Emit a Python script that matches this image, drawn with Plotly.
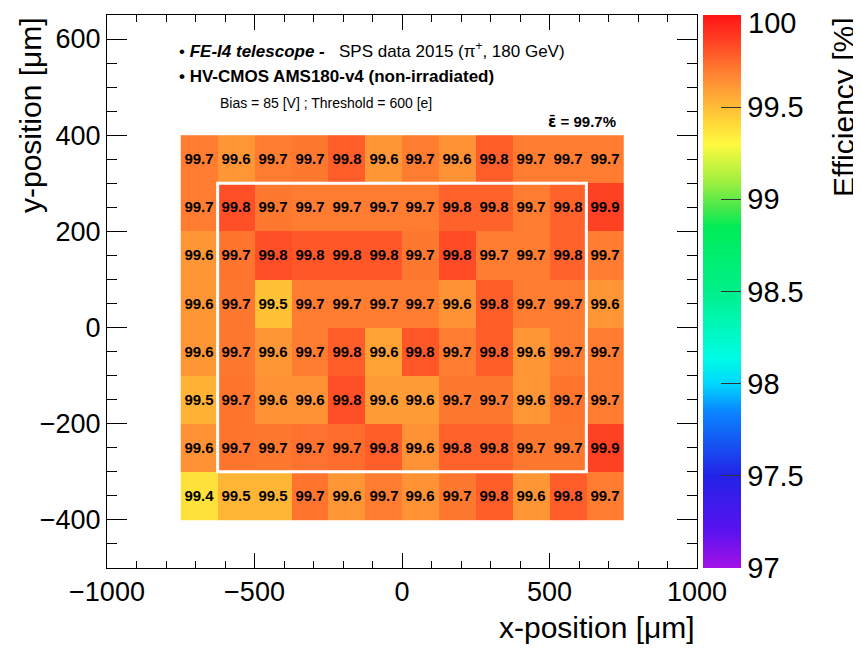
import plotly.graph_objects as go

# ---- data ----
x_bins = [-687.5, -562.5, -437.5, -312.5, -187.5, -62.5, 62.5, 187.5, 312.5, 437.5, 562.5, 687.5]
y_bins = [350, 250, 150, 50, -50, -150, -250, -350]

# efficiency values (top row first), estimated from labels and cell colours
eff = [
    [99.70, 99.62, 99.70, 99.71, 99.78, 99.62, 99.70, 99.63, 99.78, 99.70, 99.70, 99.70],
    [99.70, 99.82, 99.71, 99.70, 99.70, 99.70, 99.70, 99.77, 99.77, 99.70, 99.77, 99.86],
    [99.62, 99.72, 99.82, 99.80, 99.80, 99.80, 99.71, 99.83, 99.70, 99.70, 99.77, 99.70],
    [99.62, 99.71, 99.48, 99.70, 99.70, 99.70, 99.70, 99.63, 99.78, 99.70, 99.70, 99.62],
    [99.62, 99.71, 99.62, 99.70, 99.78, 99.58, 99.80, 99.70, 99.78, 99.62, 99.70, 99.70],
    [99.53, 99.72, 99.63, 99.63, 99.82, 99.60, 99.60, 99.71, 99.71, 99.62, 99.72, 99.70],
    [99.63, 99.72, 99.71, 99.73, 99.74, 99.78, 99.63, 99.77, 99.77, 99.71, 99.71, 99.86],
    [99.38, 99.52, 99.52, 99.72, 99.62, 99.70, 99.63, 99.71, 99.78, 99.62, 99.78, 99.70],
]
labels = [
    ["99.7", "99.6", "99.7", "99.7", "99.8", "99.6", "99.7", "99.6", "99.8", "99.7", "99.7", "99.7"],
    ["99.7", "99.8", "99.7", "99.7", "99.7", "99.7", "99.7", "99.8", "99.8", "99.7", "99.8", "99.9"],
    ["99.6", "99.7", "99.8", "99.8", "99.8", "99.8", "99.7", "99.8", "99.7", "99.7", "99.8", "99.7"],
    ["99.6", "99.7", "99.5", "99.7", "99.7", "99.7", "99.7", "99.6", "99.8", "99.7", "99.7", "99.6"],
    ["99.6", "99.7", "99.6", "99.7", "99.8", "99.6", "99.8", "99.7", "99.8", "99.6", "99.7", "99.7"],
    ["99.5", "99.7", "99.6", "99.6", "99.8", "99.6", "99.6", "99.7", "99.7", "99.6", "99.7", "99.7"],
    ["99.6", "99.7", "99.7", "99.7", "99.7", "99.8", "99.6", "99.8", "99.8", "99.7", "99.7", "99.9"],
    ["99.4", "99.5", "99.5", "99.7", "99.6", "99.7", "99.6", "99.7", "99.8", "99.6", "99.8", "99.7"],
]
# fiducial region (x0, x1, y0, y1) in micrometres
fiducial = [-625, 625, -300, 300]
mean_eff = "99.7%"

z_min, z_max = 97, 100
cbar_ticks = [97, 97.5, 98, 98.5, 99, 99.5, 100]
cbar_ticktext = ["97", "97.5", "98", "98.5", "99", "99.5", ""]
cbar_top_label = "100"   # drawn separately so it is not clipped by the page edge

colorscale = [
    [0.0, "#a412e6"],
    [0.0667, "#5a12f0"],
    [0.1667, "#2222e6"],
    [0.2833, "#0a86ff"],
    [0.3333, "#00d8ff"],
    [0.3833, "#00fde2"],
    [0.5, "#00f08a"],
    [0.6167, "#00ec58"],
    [0.65, "#44e84a"],
    [0.70, "#a2f040"],
    [0.7667, "#fffa40"],
    [0.8167, "#ffcc36"],
    [0.8667, "#ff9c36"],
    [0.90, "#ff7c30"],
    [0.95, "#ff4424"],
    [1.0, "#ff1414"],
]

FONT = "Liberation Sans, Arial, sans-serif"

fig = go.Figure()
fig.add_trace(go.Heatmap(
    x=x_bins, y=y_bins, z=eff, text=labels,
    texttemplate="%{text}",
    textfont=dict(family=FONT, size=15, color="black", weight="bold"),
    zmin=z_min, zmax=z_max, colorscale=colorscale,
    hoverongaps=False,
    colorbar=dict(
        x=1.0102, xanchor="left", xref="paper", xpad=0,
        y=0.5, yanchor="middle", len=1.0, lenmode="fraction",
        thickness=38, thicknessmode="pixels",
        outlinewidth=0,
        ticks="inside", ticklen=20, tickwidth=1, tickcolor="#333",
        tickmode="array", tickvals=cbar_ticks, ticktext=cbar_ticktext,
        tickfont=dict(family=FONT, size=29, color="black"),
        ypad=0,
    ),
))

fig.add_shape(type="rect", x0=fiducial[0], x1=fiducial[1], y0=fiducial[2], y1=fiducial[3],
              xref="x", yref="y", line=dict(color="white", width=3), fillcolor="rgba(0,0,0,0)")

fig.update_xaxes(
    range=[-1000, 1000], tick0=-1000, dtick=500,
    ticks="inside", ticklen=15, tickwidth=1, tickcolor="black",
    minor=dict(dtick=100, ticks="inside", ticklen=7, tickwidth=1, tickcolor="black"),
    showline=True, linecolor="black", linewidth=1, mirror="allticks",
    showgrid=False, zeroline=False,
    tickfont=dict(family=FONT, size=27, color="black"),
)
fig.update_yaxes(
    range=[-500, 650], tick0=-400, dtick=200,
    ticks="inside", ticklen=20, tickwidth=1, tickcolor="black",
    minor=dict(dtick=50, ticks="inside", ticklen=10, tickwidth=1, tickcolor="black"),
    showline=True, linecolor="black", linewidth=1, mirror="allticks",
    showgrid=False, zeroline=False,
    tickfont=dict(family=FONT, size=27, color="black"),
)

nb = "\u00a0"
ann = [
    dict(text="• <b><i>FE-I4 telescope -</i></b>" + nb * 3 + "SPS data 2015 (π<sup>+</sup>, 180 GeV)",
         x=0.1186, y=0.9367, xanchor="left", yanchor="middle", font=dict(size=17)),
    dict(text="<b>• HV-CMOS AMS180-v4 (non-irradiated)</b>",
         x=0.1186, y=0.888, xanchor="left", yanchor="middle", font=dict(size=17)),
    dict(text="Bias = 85 [V] ; Threshold = 600 [e]",
         x=0.188, y=0.841, xanchor="left", yanchor="middle", font=dict(size=14)),
    dict(text="<b><span style='font-family:DejaVu Sans'>ε\u0304</span> = " + mean_eff + "</b>",
         x=0.866, y=0.8065, xanchor="right", yanchor="middle", font=dict(size=15)),
    dict(text="y-position [μm]", x=-0.1305, y=1.0, xanchor="center", yanchor="top",
         textangle=-90, font=dict(size=30)),
    dict(text="x-position [μm]", x=1.0, y=-0.1067, xanchor="right", yanchor="middle",
         font=dict(size=30)),
    dict(text="Efficiency [%]", x=1.2475, y=1.0, xanchor="center", yanchor="top",
         textangle=-90, font=dict(size=30)),
    dict(text=cbar_top_label, x=1.0835, y=1.0, xanchor="left", yanchor="top",
         yshift=10, font=dict(size=29)),
]
for a in ann:
    a.update(xref="paper", yref="paper", showarrow=False)
    a["font"].update(family=FONT, color="black")
    fig.add_annotation(**a)

# the page body adds an 8 px margin, so the figure is 8 px smaller and shifted
fig.update_layout(
    width=853, height=640,
    margin=dict(l=99, r=164, t=7, b=80),
    paper_bgcolor="white", plot_bgcolor="white",
    font=dict(family=FONT, color="black"),
    showlegend=False,
)

fig.write_html("out.html")
